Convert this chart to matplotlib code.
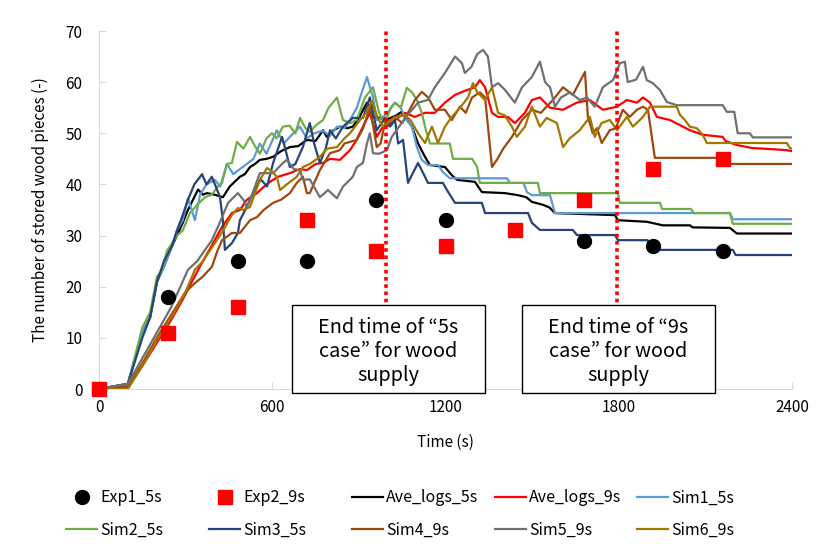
import numpy as np
import matplotlib.pyplot as plt
from matplotlib.patches import Rectangle

plt.rcParams['font.family'] = ['Noto Sans CJK KR', 'DejaVu Sans']

# experimental counts (every 240 s)
t_exp1 = [0, 240, 480, 720, 960, 1200, 1680, 1920, 2160]
y_exp1 = [0, 18, 25, 25, 37, 33, 29, 28, 27]
t_exp2 = [0, 240, 480, 720, 960, 1200, 1440, 1680, 1920, 2160]
y_exp2 = [0, 11, 16, 33, 27, 28, 31, 37, 43, 45]

# simulated curves, (time, pieces)
ave_5s = np.array([(0,0),(100,1),(150,11),(177,14),(201,21),(225,24),(253,28),(270,30),(290,32.5),(308,35),
    (343,39),(360,38),(374,38.3),(400,38),(429,37.5),(453,39.6),(488,41.5),(505,42),(523,43.4),(540,44),
    (557,44.8),(580,45),(603,45.4),(630,46.5),(661,47.3),(690,47.5),(720,48.7),(750,48.5),(776,50.6),(789,49.3),
    (810,50.5),(834,51.3),(860,51),(879,51.3),(900,53),(928,56),(949,53.2),(975,53),(990,52.6),(1010,53),
    (1030,53.5),(1048,54.2),(1059,53.2),(1084,51.3),(1105,48),(1129,45.4),(1146,43.8),(1198,43.4),(1222,41.8),(1240,40.9),
    (1302,40.5),(1326,38.5),(1406,38.3),(1451,37.9),(1480,37.5),(1499,36.6),(1538,36),(1560,35.5),(1579,34.4),(1787,34),
    (1797,33),(1897,32.7),(1953,32),(2046,32),(2056,31.6),(2185,31.5),(2209,30.4),(2400,30.4)])

ave_9s = np.array([(0,0),(100,0.3),(150,4.5),(200,9),(250,13.5),(290,17.5),(322,21),(350,24),(380,27),(400,29),
    (426,31.7),(460,34.4),(488,35),(512,37),(547,38.3),(570,39.5),(592,40.5),(620,41.5),(661,42.2),(696,43),
    (720,42.8),(750,44),(776,44.2),(800,45),(834,44.8),(869,46.7),(890,48.5),(914,51.3),(938,54),(962,49.3),
    (980,51),(1000,51.5),(1025,52.6),(1059,54),(1094,53.2),(1129,54),(1163,54),(1198,56),(1233,57.5),(1267,58.3),
    (1302,59),(1319,60.4),(1337,59),(1361,54),(1382,53.2),(1416,53.2),(1440,52),(1475,54),(1499,56.5),(1527,57),
    (1562,55),(1607,54.6),(1655,56),(1700,56.5),(1745,54.6),(1794,55.2),(1828,56.5),(1863,56),(1884,57),(1908,56),
    (1932,53.2),(1977,52.6),(2012,51.6),(2046,50.6),(2091,49.7),(2160,49.3),(2170,48.5),(2209,47.7),(2264,47.1),(2300,47),
    (2382,46.7),(2400,46.5)])

sim1_5s = np.array([(0,0),(100,1),(150,11),(177,14),(201,21),(225,24),(253,28),(270,31),(290,33),(308,37.3),
    (332,33),(350,38),(372,40),(401,40.9),(420,39.6),(443,44),(465,42),(488,43),(512,44),(535,45),
    (557,48),(580,46),(616,50.6),(640,48),(661,49.3),(696,51.3),(720,49),(745,50),(776,50.5),(800,49.5),
    (824,51.3),(850,51),(869,52.6),(893,55),(910,58),(928,61),(949,57),(962,52.6),(980,53),(1000,54),
    (1025,56),(1045,55),(1060,53),(1084,51.3),(1101,47.3),(1118,44.8),(1139,43.8),(1175,43.8),(1191,42.4),(1215,41.2),
    (1413,41.2),(1423,40.3),(1470,40.3),(1482,38.5),(1499,37.9),(1562,37.9),(1579,34.4),(2185,34.4),(2195,33.2),(2400,33.2)])

sim2_5s = np.array([(0,0),(100,1),(150,12),(177,15),(201,22),(218,23),(235,27),(253,28.5),(270,30),(290,31),
    (315,34.4),(340,36),(367,37.5),(390,38),(412,39.6),(426,40.3),(443,44),(460,44.2),(478,48.3),(500,47),
    (523,49.3),(540,47.5),(557,46),(580,49),(599,50),(615,49),(637,51.3),(660,51.5),(680,50),(696,53),
    (715,51),(730,50.3),(750,51.5),(776,52.6),(795,55),(810,56),(824,57),(845,52.6),(870,52),(893,52.6),
    (921,57),(949,59),(970,54),(990,52),(1010,55),(1025,56),(1045,55),(1066,58.9),(1084,58),(1101,56.5),
    (1118,54),(1129,51.3),(1146,48),(1215,48),(1226,45),(1292,45),(1309,43.5),(1319,40.3),(1520,40.3),(1527,38.3),
    (1797,38.3),(1804,36.4),(1943,36.4),(1950,35.2),(2050,35.2),(2060,34.4),(2185,34.4),(2195,32.3),(2400,32.3)])

sim3_5s = np.array([(0,0),(100,1),(150,10),(177,14),(201,21),(225,25),(253,28),(270,31),(290,34),(308,37),
    (330,40),(357,42),(372,40),(391,41.5),(419,37.5),(429,33),(436,27.2),(460,28.5),(481,30.5),(488,33),
    (512,35.6),(533,38.3),(560,41),(582,39.6),(603,44.2),(634,49.3),(645,47),(661,43.4),(680,44),(706,47.3),
    (730,52),(745,48),(765,44.2),(785,47),(800,50.6),(820,49),(845,51.3),(879,53),(914,53),(938,57),
    (962,50.6),(990,53),(1008,51.3),(1025,52.6),(1036,48),(1053,48.7),(1070,40.3),(1085,42),(1105,44.2),(1129,41.5),
    (1139,40.3),(1191,40.3),(1205,38.9),(1233,36.4),(1326,36.4),(1337,34.4),(1486,34.4),(1499,32.5),(1527,31.1),(1641,31.1),
    (1655,30.1),(1787,30.1),(1797,29.1),(1900,29.1),(1910,27.2),(2195,27.2),(2205,26.2),(2400,26.2)])

sim4_9s = np.array([(0,0),(100,0.5),(150,5),(200,10),(250,14.5),(300,19),(332,20.7),(360,22),(391,23.9),(410,27),
    (426,29.1),(460,30.5),(488,30.5),(523,33),(547,33.6),(570,35),(603,36.4),(630,37),(661,38.3),(685,40.3),
    (706,41.5),(720,38.3),(730,38.3),(765,42.8),(800,46.1),(834,46.7),(850,48),(893,48.7),(915,51),(938,55.2),
    (962,47.3),(975,48),(990,51.9),(1025,53.2),(1050,52),(1070,54),(1094,56.5),(1118,58.1),(1140,57),(1163,54.6),
    (1198,54.6),(1222,52.6),(1250,55.2),(1270,54),(1292,57),(1319,58),(1337,57),(1361,43.4),(1380,45),(1400,47),
    (1430,49.3),(1465,52.6),(1499,54.6),(1530,54),(1572,56.5),(1607,59),(1641,57.5),(1683,62),(1693,53.2),(1710,50),
    (1725,51),(1741,48.1),(1769,50.6),(1790,51),(1814,54.6),(1838,53.2),(1863,54.6),(1884,55.2),(1901,54.6),(1925,45.2),
    (2165,45.2),(2175,44),(2400,44)])

sim5_9s = np.array([(0,0),(100,1),(150,6),(200,11),(250,16),(308,23.3),(340,25),(367,27.2),(390,29),(412,31.7),
    (447,36.4),(481,38.3),(500,37),(512,35.6),(530,38),(557,42.2),(582,42.2),(603,42.2),(637,44.2),(651,44.8),
    (675,43),(696,42.8),(706,40.9),(730,41),(765,37.5),(793,38.9),(824,37.3),(845,39.6),(858,40.3),(879,41.5),
    (893,43.4),(914,44.2),(928,48),(938,50),(949,46.1),(970,46),(997,46.7),(1014,49.3),(1048,52),(1075,54),
    (1105,56),(1139,56.5),(1163,59),(1198,61.8),(1233,65),(1257,63.7),(1267,61.8),(1290,63),(1310,65.5),(1330,66.3),
    (1347,65),(1361,59),(1382,59.8),(1406,58.5),(1440,56),(1465,59),(1499,61),(1527,64),(1545,60),(1562,59),
    (1579,55.2),(1600,57),(1631,58),(1665,56.5),(1690,57),(1717,55.2),(1745,59),(1780,60.4),(1804,63.7),(1821,64),
    (1831,60),(1860,60.5),(1884,63),(1897,60.4),(1918,59.8),(1942,58.5),(1967,56.1),(2001,55.5),(2160,55.5),(2174,54.2),
    (2200,54.2),(2212,50),(2254,50),(2264,49.2),(2400,49.2)])

sim6_9s = np.array([(0,0),(100,0),(150,4.5),(200,9.5),(250,14),(300,19),(332,23.3),(360,25),(401,28.5),(430,31),
    (460,34),(481,35.4),(500,35),(523,35.6),(557,40.9),(582,43.2),(600,42.5),(616,41.5),(627,38.9),(650,40),
    (685,41.5),(706,43.4),(730,44),(765,45.4),(790,47),(824,47.3),(850,49),(869,50),(904,52.6),(925,54),
    (945,56.3),(965,53),(983,51.3),(1000,52),(1025,53.2),(1060,53.5),(1080,52.5),(1105,50),(1129,48.1),(1153,51.3),
    (1174,48.1),(1198,51.3),(1222,53.2),(1250,55),(1278,57),(1295,59.8),(1310,58),(1337,56.5),(1361,59),(1382,54),
    (1405,53.5),(1430,51.3),(1447,49.3),(1475,51.3),(1499,55.2),(1527,51.3),(1550,53),(1586,52),(1607,47.3),(1630,49),
    (1665,50.6),(1700,53.2),(1717,49.3),(1740,52),(1769,52.6),(1794,50.6),(1828,53.2),(1849,51.3),(1884,53.2),(1908,55.2),
    (2001,55.2),(2012,53.6),(2029,52.6),(2046,51.3),(2070,51),(2091,49.7),(2105,48.1),(2382,48.1),(2393,47.1),(2400,47)])

end_times = [995, 1795]
box_texts = ["End time of \u201c5s\ncase\u201d for wood\nsupply",
             "End time of \u201c9s\ncase\u201d for wood\nsupply"]

fig = plt.figure(figsize=(8.16, 5.44), dpi=100)
ax = fig.add_axes([99/816, 1-389/544, 693/816, 358/544])

lines = [(ave_5s, "black", "Ave_logs_5s"),
         (ave_9s, "#FF0000", "Ave_logs_9s"),
         (sim1_5s, "#5B9BD5", "Sim1_5s"),
         (sim2_5s, "#70AD47", "Sim2_5s"),
         (sim3_5s, "#264478", "Sim3_5s"),
         (sim4_9s, "#9E480E", "Sim4_9s"),
         (sim5_9s, "#707070", "Sim5_9s"),
         (sim6_9s, "#A07800", "Sim6_9s")]

h = {}
h["Exp1_5s"], = ax.plot(t_exp1, y_exp1, "o", color="black", ms=10, zorder=6, clip_on=False)
h["Exp2_9s"], = ax.plot(t_exp2, y_exp2, "s", color="#FF0000", ms=10, zorder=7, clip_on=False)
for d, c, lab in lines:
    h[lab], = ax.plot(d[:, 0], d[:, 1], color=c, lw=1.6, zorder=3)

for te in end_times:
    ax.plot([te, te], [0, 70], color="#FF0000", lw=2.6, ls=(0, (1, 1)), zorder=4)

# text boxes
box_x = [(667, 1337), (1465, 2133)]
for (x0, x1), txt in zip(box_x, box_texts):
    ax.add_patch(Rectangle((x0, -0.7), x1-x0, 17.1, facecolor="white", edgecolor="black",
                           lw=1, zorder=8, clip_on=False))
    ax.text((x0+x1)/2, 7.3, txt, ha="center", va="center", fontsize=14.3, zorder=9, linespacing=1.2)

ax.set_xlim(0, 2400)
ax.set_ylim(0, 70)
ax.set_xticks([0, 600, 1200, 1800, 2400])
ax.set_yticks(range(0, 71, 10))
for s in ["top", "right"]:
    ax.spines[s].set_visible(False)
for s in ["left", "bottom"]:
    ax.spines[s].set_color("#D9D9D9")
ax.tick_params(axis="both", direction="in", length=5, color="#D9D9D9", labelsize=11)
ax.tick_params(axis="y", pad=12)
ax.tick_params(axis="x", pad=7)
ax.set_xlabel("Time (s)", fontsize=11, labelpad=13)
ax.set_ylabel("The number of stored wood pieces (-)", fontsize=11, labelpad=12)

# legend in a fixed 5 x 2 grid like the original
legend_cols = [["Exp1_5s", "Sim2_5s"], ["Exp2_9s", "Sim3_5s"], ["Ave_logs_5s", "Sim4_9s"],
               ["Ave_logs_9s", "Sim5_9s"], ["Sim1_5s", "Sim6_9s"]]
col_x = [66, 209, 352, 495, 637]
for cx, names in zip(col_x, legend_cols):
    fig.legend([h[k] for k in names], names, loc="center left", bbox_to_anchor=(cx/816, 1-514/544),
               frameon=False, fontsize=11.5, handlelength=1.95, handletextpad=0.2, borderpad=0,
               borderaxespad=0, labelspacing=0.95)

fig.savefig("out.png", dpi=100)
